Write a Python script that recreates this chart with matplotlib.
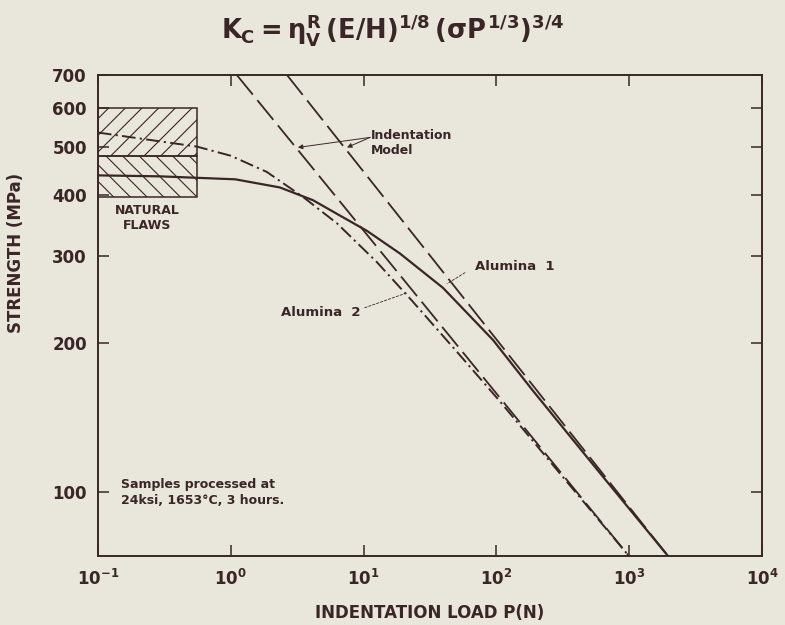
import matplotlib
matplotlib.use("Agg")
import matplotlib.pyplot as plt
from matplotlib.patches import Rectangle

INK = "#3a2626"
PAPER = "#e9e6dc"

plt.rcParams["font.family"] = ["DejaVu Sans"]
plt.rcParams["font.weight"] = "bold"
plt.rcParams["axes.labelweight"] = "bold"
plt.rcParams["axes.labelcolor"] = INK
plt.rcParams["mathtext.fontset"] = "custom"
plt.rcParams["mathtext.rm"] = "DejaVu Sans:bold"
plt.rcParams["mathtext.it"] = "DejaVu Sans:bold"
plt.rcParams["mathtext.bf"] = "DejaVu Sans:bold"
plt.rcParams["text.color"] = INK
plt.rcParams["axes.edgecolor"] = INK
plt.rcParams["xtick.color"] = INK
plt.rcParams["ytick.color"] = INK
plt.rcParams["hatch.linewidth"] = 0.8
plt.rcParams["hatch.color"] = INK

# Alumina 1: measured strength (solid) and its indentation-model asymptote
alumina1_load = [0.1, 0.293, 1.08, 2.34, 4.16, 6.64, 10.6, 18.8, 39.6, 94.3, 189, 603, 1960]
alumina1_strength = [438, 436, 430, 414, 390, 363, 338, 304, 259, 203, 160, 109, 74]
model1_load = [2.65, 1960]
model1_strength = [700, 74]

# Alumina 2: measured strength (dash-dot) and its indentation-model asymptote
alumina2_load = [0.1, 0.21, 0.556, 1.0, 1.87, 3.5, 6.31, 12.6, 23.1, 49.7, 105, 291, 995]
alumina2_strength = [535, 520, 501, 480, 445, 396, 350, 292, 244, 193, 153, 110, 74]
model2_load = [1.11, 995]
model2_strength = [700, 74]

# natural flaw strength band (load range, strength bounds)
flaw_load = [0.1, 0.556]
flaw_upper = [480, 600]
flaw_lower = [395, 480]

x_ticks = [1e-1, 1e0, 1e1, 1e2, 1e3, 1e4]
x_labels = [r"$10^{-1}$", r"$10^{0}$", r"$10^{1}$", r"$10^{2}$", r"$10^{3}$", r"$10^{4}$"]
y_ticks = [100, 200, 300, 400, 500, 600, 700]

fig = plt.figure(figsize=(7.85, 6.25), dpi=100, facecolor=PAPER)
ax = fig.add_axes([0.1248, 0.1104, 0.8459, 0.7696], facecolor=PAPER)
ax.set_xscale("log")
ax.set_yscale("log")
ax.set_xlim(1e-1, 1e4)
ax.set_ylim(74, 700)

# hatched band of natural flaws
w = flaw_load[1] - flaw_load[0]
ax.add_patch(Rectangle((flaw_load[0], flaw_upper[0]), w, flaw_upper[1] - flaw_upper[0],
                       facecolor="none", edgecolor=INK, hatch="//", lw=1.1, zorder=2))
ax.add_patch(Rectangle((flaw_load[0], flaw_lower[0]), w, flaw_lower[1] - flaw_lower[0],
                       facecolor="none", edgecolor=INK, hatch="\\\\", lw=1.1, zorder=2))
ax.text(0.236, 359, "NATURAL\nFLAWS", ha="center", va="center", fontsize=9,
        linespacing=1.25)

ax.plot(model1_load, model1_strength, color=INK, lw=1.3, ls=(0, (14, 4)), zorder=3)
ax.plot(model2_load, model2_strength, color=INK, lw=1.3, ls=(0, (14, 4)), zorder=3)
ax.plot(alumina1_load, alumina1_strength, color=INK, lw=1.6, zorder=4)
ax.plot(alumina2_load, alumina2_strength, color=INK, lw=1.4, ls=(0, (7, 2.2, 1.1, 2.2)), zorder=4)

# leaders to the model lines and curves
for tip in [(3.2, 499), (7.5, 499)]:
    ax.annotate("", xy=tip, xytext=(11.2, 523),
                arrowprops=dict(arrowstyle="-|>", color=INK, lw=0.7, mutation_scale=7,
                                shrinkA=0, shrinkB=0))
ax.text(11.4, 510, "Indentation\nModel", ha="left", va="center", fontsize=9,
        linespacing=1.15)

ax.annotate("", xy=(42.5, 264), xytext=(58, 278),
            arrowprops=dict(arrowstyle="-", color=INK, lw=0.6, ls=(0, (3, 2)),
                            shrinkA=0, shrinkB=0))
ax.text(69, 286, "Alumina  1", ha="left", va="center", fontsize=9.5)
ax.annotate("", xy=(21.2, 253), xytext=(10.2, 236),
            arrowprops=dict(arrowstyle="-", color=INK, lw=0.6, ls=(0, (3, 2)),
                            shrinkA=0, shrinkB=0))
ax.text(9.4, 231, "Alumina  2", ha="right", va="center", fontsize=9.5)

ax.text(0.15, 99.5, "Samples processed at\n24ksi, 1653\u00b0C, 3 hours.", ha="left",
        va="center", fontsize=9, linespacing=1.35)

ax.set_xticks(x_ticks)
ax.set_xticklabels(x_labels)
ax.set_yticks(y_ticks)
ax.set_yticklabels([str(v) for v in y_ticks])
ax.minorticks_off()
ax.tick_params(axis="both", which="major", direction="in", length=8, width=1.1,
               labelsize=12, top=True, right=True)
ax.tick_params(axis="x", pad=9)
ax.tick_params(axis="y", pad=8)
for s in ax.spines.values():
    s.set_linewidth(1.4)

ax.set_xlabel("INDENTATION LOAD P(N)", fontsize=12, fontweight="bold", va="center")
ax.xaxis.set_label_coords(0.5, -0.118)
ax.set_ylabel("STRENGTH (MPa)", fontsize=12, fontweight="bold", va="center")
ax.yaxis.set_label_coords(-0.123, 0.63)

fig.text(0.5, 1 - 30 / 625, r"$K_C = \eta_V^R\,(E/H)^{1/8}\,(\sigma P^{1/3})^{3/4}$",
         ha="center", va="center", fontsize=18.5)

fig.savefig("out.png", dpi=100, facecolor=PAPER)
